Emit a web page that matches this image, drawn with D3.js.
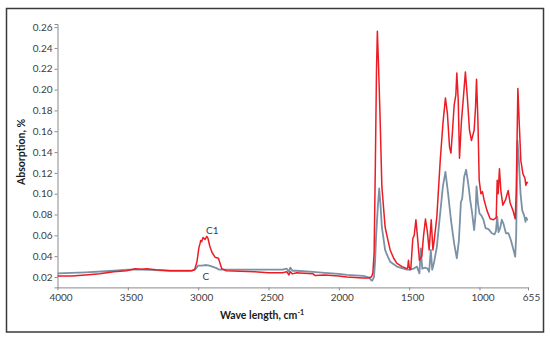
<!DOCTYPE html>
<html><head><meta charset="utf-8">
<script src="https://cdn.jsdelivr.net/npm/d3@7"></script>
<style>body{margin:0;background:#fff}svg{display:block}</style>
</head><body>
<script>
// ---- data ----
const waveC1 = [4000,3900,3800,3700,3600,3508,3449,3400,3366,3300,3200,3100,3045,3025,3008,2995,2987,2982,2975,2965,2951,2939,2930,2918,2903,2880,2856,2844,2832,2800,2700,2600,2500,2400,2370,2355,2345,2330,2300,2250,2183,2170,2100,2000,1943,1825,1790,1770,1765,1758,1749,1740,1732,1726,1718,1706,1694,1671,1650,1635,1610,1587,1550,1516,1510,1505,1500,1493,1488,1474,1464,1452,1441,1427,1410,1398,1384,1370,1358,1343,1331,1322,1303,1279,1260,1242,1228,1213,1203,1192,1180,1168,1161,1151,1142,1128,1114,1100,1085,1071,1057,1038,1028,1021,1011,1002,990,979,967,947,924,900,881,874,867,858,848,834,815,796,782,762,746,739,727,718,706,691,677,670,663,656];
const absC1 = [0.021,0.021,0.022,0.023,0.025,0.026,0.028,0.0275,0.028,0.027,0.026,0.026,0.026,0.027,0.035,0.048,0.052,0.055,0.054,0.058,0.056,0.059,0.057,0.050,0.044,0.039,0.038,0.033,0.028,0.026,0.0255,0.025,0.024,0.024,0.025,0.022,0.025,0.023,0.024,0.0235,0.023,0.0215,0.022,0.021,0.020,0.019,0.019,0.020,0.021,0.024,0.043,0.13,0.22,0.256,0.225,0.17,0.107,0.068,0.055,0.046,0.038,0.033,0.030,0.028,0.029,0.036,0.030,0.027,0.028,0.057,0.060,0.075,0.059,0.036,0.040,0.059,0.0756,0.063,0.046,0.075,0.046,0.055,0.078,0.132,0.167,0.192,0.177,0.145,0.139,0.16,0.185,0.195,0.216,0.19,0.134,0.17,0.193,0.217,0.19,0.161,0.151,0.161,0.183,0.21,0.17,0.113,0.10,0.102,0.094,0.084,0.076,0.075,0.077,0.113,0.10,0.124,0.103,0.089,0.094,0.103,0.091,0.084,0.076,0.10,0.201,0.17,0.132,0.119,0.115,0.108,0.111,0.110];

const waveC = [4000,3800,3600,3500,3400,3300,3200,3050,3025,3010,3000,2975,2950,2920,2900,2870,2850,2700,2500,2400,2370,2355,2345,2330,2300,2183,2100,2000,1943,1825,1785,1770,1762,1750,1742,1735,1723,1713,1704,1694,1671,1650,1635,1587,1516,1493,1469,1445,1427,1417,1407,1386,1370,1358,1346,1336,1322,1303,1284,1260,1242,1223,1203,1180,1161,1146,1132,1123,1109,1095,1080,1066,1052,1038,1028,1021,1011,1000,986,972,957,936,912,893,883,874,865,853,841,829,812,794,777,758,746,739,730,720,708,696,682,673,668,659,656];
const absC = [0.0235,0.0245,0.026,0.027,0.027,0.0265,0.026,0.026,0.027,0.029,0.031,0.031,0.0315,0.031,0.030,0.0285,0.027,0.027,0.027,0.027,0.028,0.025,0.029,0.026,0.026,0.025,0.024,0.023,0.022,0.021,0.0195,0.017,0.0165,0.020,0.035,0.059,0.087,0.105,0.09,0.068,0.046,0.039,0.0347,0.030,0.027,0.027,0.028,0.030,0.0235,0.0475,0.028,0.029,0.028,0.025,0.046,0.027,0.0347,0.049,0.075,0.107,0.121,0.10,0.075,0.052,0.038,0.0555,0.092,0.095,0.116,0.123,0.11,0.094,0.081,0.065,0.08,0.107,0.091,0.081,0.079,0.075,0.067,0.066,0.062,0.061,0.064,0.078,0.063,0.067,0.075,0.071,0.062,0.062,0.0555,0.046,0.0395,0.06,0.151,0.132,0.10,0.084,0.079,0.073,0.077,0.075,0.075];

const xTicks = [4000,3500,3000,2500,2000,1500,1000,655];
const yTicks = [0.02,0.04,0.06,0.08,0.10,0.12,0.14,0.16,0.18,0.20,0.22,0.24,0.26];
const seriesLabels = ["C1","C"];

// ---- layout ----
const W = 550, H = 340;
const svg = d3.select("body").append("svg").attr("width", W).attr("height", H);
const font = "Lato, 'Liberation Sans', sans-serif";

svg.append("rect").attr("x",6.5).attr("y",8.5).attr("width",537).attr("height",323.5)
  .attr("fill","#fff").attr("stroke","#3a3a3a").attr("stroke-width",1.5);

const x = d3.scaleLinear().domain([4000,655]).range([57.5,528]);
const y = d3.scaleLinear().domain([0.01,0.263]).range([287.4,24]);

// y axis
const yAxis = svg.append("g").attr("transform","translate(57.5,0)")
  .call(d3.axisLeft(y).tickValues(yTicks).tickFormat(d3.format(".2f")).tickSize(3).tickPadding(2));
yAxis.select(".domain").attr("stroke","#8a8a8a");
yAxis.selectAll(".tick line").attr("stroke","#8a8a8a");
yAxis.selectAll("text").attr("font-family",font).attr("font-size",10).attr("fill","#404040");

// x axis
const xAxis = svg.append("g").attr("transform","translate(0,287.4)")
  .call(d3.axisBottom(x).tickValues(xTicks).tickFormat(d3.format("d")).tickSize(3).tickPadding(4).tickSizeOuter(0));
xAxis.select(".domain").attr("stroke","#8a8a8a");
xAxis.selectAll(".tick line").attr("stroke","#8a8a8a");
xAxis.selectAll("text").attr("font-family",font).attr("font-size",10).attr("fill","#404040").attr("dx",3);

// titles
svg.append("text").attr("transform","translate(25,152) rotate(-90)")
  .attr("text-anchor","middle").attr("font-family",font).attr("font-weight","bold")
  .attr("font-size",10.5).attr("fill","#1a1a1a").text("Absorption, %");
const xt = svg.append("text").attr("x",262).attr("y",319).attr("text-anchor","middle")
  .attr("font-family",font).attr("font-weight","bold").attr("font-size",10.5).attr("fill","#1a1a1a");
xt.append("tspan").text("Wave length, cm");
xt.append("tspan").attr("font-size",7).attr("dy",-4).text("-1");

// lines
const line = d3.line().x(d => x(d[0])).y(d => y(d[1]));
const dataC = waveC.map((w,i) => [w, absC[i]]);
const dataC1 = waveC1.map((w,i) => [w, absC1[i]]);
svg.append("path").datum(dataC).attr("d",line).attr("fill","none")
  .attr("stroke","#7b91a5").attr("stroke-width",1.8).attr("stroke-linejoin","round");
svg.append("path").datum(dataC1).attr("d",line).attr("fill","none")
  .attr("stroke","#ec1c24").attr("stroke-width",1.5).attr("stroke-linejoin","round");

// annotations
svg.append("text").attr("x",x(2900)).attr("y",y(0.0615)).attr("text-anchor","middle")
  .attr("font-family",font).attr("font-size",10).attr("fill","#404040").text(seriesLabels[0]);
svg.append("text").attr("x",x(2945)).attr("y",y(0.0175)).attr("text-anchor","middle")
  .attr("font-family",font).attr("font-size",10).attr("fill","#404040").text(seriesLabels[1]);
</script>
</body></html>
